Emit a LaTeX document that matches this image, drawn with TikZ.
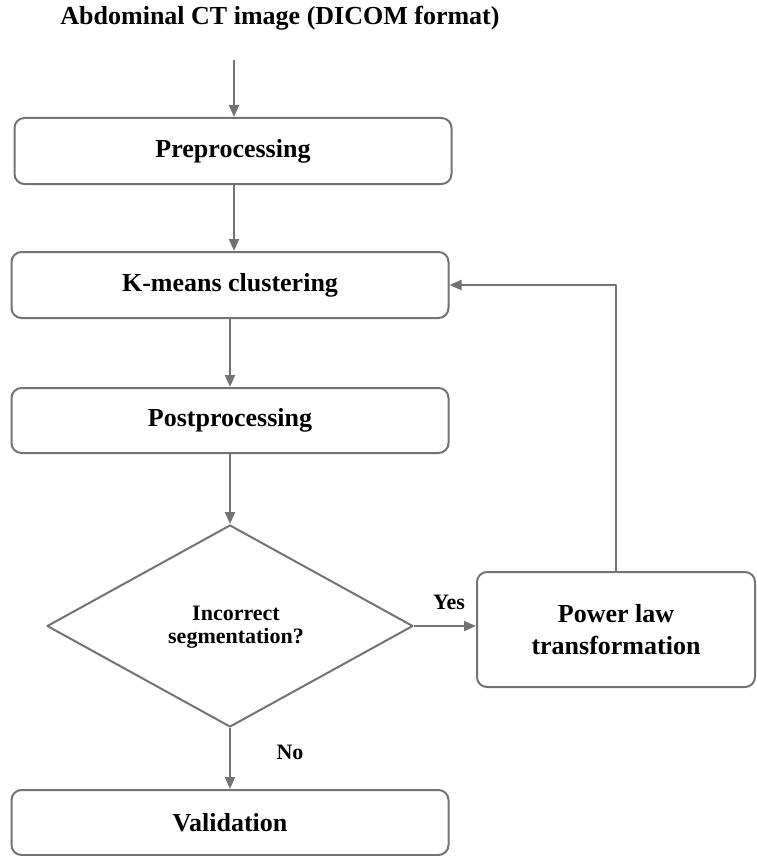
\documentclass[tikz,border=0pt]{standalone}
\usepackage{fontspec}
\setmainfont{Liberation Serif}
\usetikzlibrary{shapes.geometric,arrows.meta}
\definecolor{linegray}{RGB}{115,115,115}
\begin{document}
\begin{tikzpicture}[x=1pt, y=-1pt, line join=round, >={Triangle[length=12pt,width=10pt]},
  font=\fontsize{26}{32}\selectfont\bfseries,
  box/.style={draw=linegray, line width=2pt, rounded corners=10pt, minimum width=437pt, minimum height=66pt, inner sep=0pt, align=center},
  decision/.style={draw=linegray, line width=2pt, diamond, minimum width=366pt, minimum height=202pt, inner sep=0pt},
  small/.style={font=\fontsize{22}{23}\selectfont\bfseries, align=center},
  link/.style={draw=linegray, line width=2pt, ->}]
\useasboundingbox (0,0) rectangle (756,856);
% boxes
\node[anchor=base] (title) at (280,25) {Abdominal CT image (DICOM format)};
\coordinate (in) at (234,60);
\node[box] (pre) at (233,151) {Preprocessing};
\node[box] (kmeans) at (230,285) {K-means clustering};
\node[box, minimum height=65pt] (post) at (230,420.5) {Postprocessing};
\node[decision] (dia) at (230,626) {};
\node[small] (qtext) at (236,627) {Incorrect\\segmentation?};
\node[box, minimum width=278pt, minimum height=115pt] (power) at (616,629.5) {Power law\\transformation};
\node[box, minimum height=65pt] (valid) at (230,822.5) {Validation};
% connectors
\draw[link] (in) -- (in |- pre.north);
\draw[link] (in |- pre.south) -- (in |- kmeans.north);
\draw[link] (kmeans.south) -- (post.north);
\draw[link] (post.south) -- (dia.north);
\draw[link] (dia.east) -- (dia.east -| power.west);
\draw[link] (power.north) |- (kmeans.east);
\draw[link] (dia.south) -- (valid.north);
\node[small] (yes) at (449,602) {Yes};
\node[small] (no) at (290,752) {No};
\end{tikzpicture}
\end{document}
